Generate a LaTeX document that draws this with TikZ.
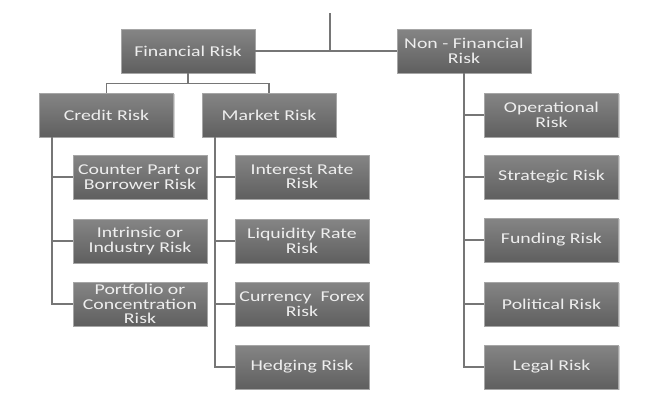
\documentclass[tikz,border=0pt]{standalone}
\usepackage{fontspec}
\setmainfont{Carlito}[FakeStretch=1.32]
\usepackage{tikz}
\usetikzlibrary{positioning,calc,shadows}
\definecolor{boxtop}{HTML}{858585}
\definecolor{boxbot}{HTML}{5F5F5F}
\definecolor{linkgray}{HTML}{767676}
\definecolor{boxtext}{HTML}{EEEEEE}

\begin{document}
\begin{tikzpicture}[x=1pt,y=-1pt,
  riskbox/.style={rectangle,draw=gray!70,line width=0.6pt,top color=boxtop,bottom color=boxbot,
    minimum width=134pt,minimum height=44pt,inner sep=0pt,align=center,text=boxtext,
    font=\fontsize{15}{14.4}\selectfont,
    drop shadow={shadow xshift=1pt,shadow yshift=-1.2pt,opacity=0.35}},
  link/.style={draw=linkgray,line width=1.6pt}]
\useasboundingbox (0,0) rectangle (659,408);
\coordinate (top) at (330,13);

\node[riskbox] (fin) at (188,51) {Financial Risk};
\node[riskbox] (nonfin) at (464,51) {Non - Financial\\Risk};

\node[riskbox] (credit) at (106.5,115) {Credit Risk};
\node[riskbox] (market) at (269,115) {Market Risk};

\node[riskbox] (cp) at (140,177) {Counter Part or\\Borrower Risk};
\node[riskbox] (intr) at (140,241) {Intrinsic or\\Industry Risk};
\node[riskbox] (port) at (140,304) {Portfolio or\\Concentration\\Risk};

\node[riskbox] (ir) at (302,177) {Interest Rate\\Risk};
\node[riskbox] (liq) at (302,241) {Liquidity Rate\\Risk};
\node[riskbox] (cur) at (302,304) {Currency~~Forex\\Risk};
\node[riskbox] (hedg) at (302,367) {Hedging Risk};

\node[riskbox] (oper) at (551.5,115) {Operational\\Risk};
\node[riskbox] (strat) at (551.5,177) {Strategic Risk};
\node[riskbox] (fund) at (551.5,240) {Funding Risk};
\node[riskbox] (pol) at (551.5,304) {Political Risk};
\node[riskbox] (legal) at (551.5,367) {Legal Risk};

\draw[link] (top) -- (top |- fin.east);
\draw[link] (fin) -- (nonfin);
\draw[link] (fin.south) -- ++(0,10) -| (credit.north);
\draw[link] (fin.south) -- ++(0,10) -| (market.north);

\draw[link] ([xshift=13pt]credit.south west) |- (cp.west);
\draw[link] ([xshift=13pt]credit.south west) |- (intr.west);
\draw[link] ([xshift=13pt]credit.south west) |- (port.west);

\draw[link] ([xshift=13pt]market.south west) |- (ir.west);
\draw[link] ([xshift=13pt]market.south west) |- (liq.west);
\draw[link] ([xshift=13pt]market.south west) |- (cur.west);
\draw[link] ([xshift=13pt]market.south west) |- (hedg.west);

\draw[link] (nonfin.south) |- (oper.west);
\draw[link] (nonfin.south) |- (strat.west);
\draw[link] (nonfin.south) |- (fund.west);
\draw[link] (nonfin.south) |- (pol.west);
\draw[link] (nonfin.south) |- (legal.west);
\end{tikzpicture}
\end{document}
